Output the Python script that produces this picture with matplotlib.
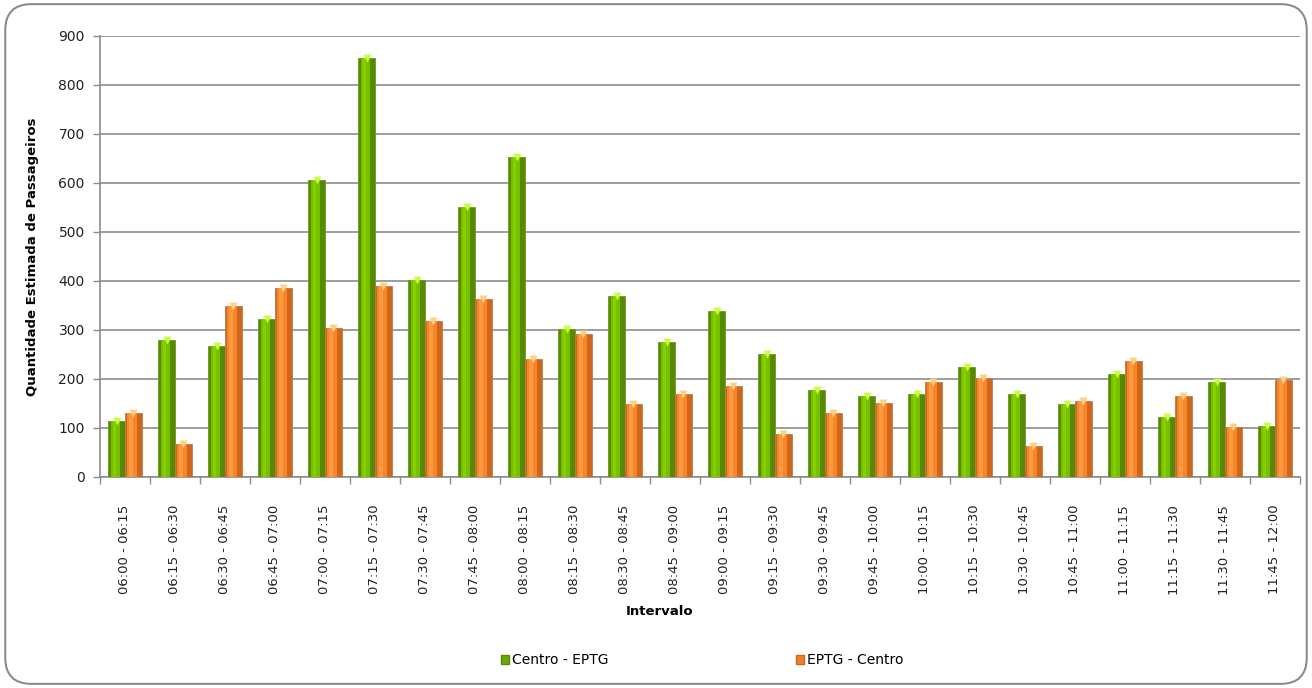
import matplotlib
matplotlib.use("Agg")
import matplotlib.pyplot as plt
import numpy as np
from matplotlib.patches import FancyBboxPatch, Patch

categories = ["06:00 - 06:15", "06:15 - 06:30", "06:30 - 06:45", "06:45 - 07:00",
              "07:00 - 07:15", "07:15 - 07:30", "07:30 - 07:45", "07:45 - 08:00",
              "08:00 - 08:15", "08:15 - 08:30", "08:30 - 08:45", "08:45 - 09:00",
              "09:00 - 09:15", "09:15 - 09:30", "09:30 - 09:45", "09:45 - 10:00",
              "10:00 - 10:15", "10:15 - 10:30", "10:30 - 10:45", "10:45 - 11:00",
              "11:00 - 11:15", "11:15 - 11:30", "11:30 - 11:45", "11:45 - 12:00"]
centro_eptg = [115, 280, 268, 323, 607, 856, 403, 552, 654, 301, 370, 276,
               339, 250, 178, 166, 170, 225, 170, 148, 211, 123, 194, 105]
eptg_centro = [131, 68, 348, 386, 305, 390, 319, 363, 241, 292, 148, 170,
               186, 88, 131, 152, 194, 203, 64, 156, 237, 166, 101, 198]
yticks = list(range(0, 1000, 100))

fig = plt.figure(figsize=(13.12, 6.88), dpi=100)
border = FancyBboxPatch((0.004, 0.006), 0.992, 0.988, boxstyle="round,pad=0,rounding_size=0.02",
                        transform=fig.transFigure, facecolor="none", edgecolor="#8c8c8c",
                        linewidth=1.5, mutation_aspect=1312/688, zorder=10)
fig.patches.append(border)

ax = fig.add_axes([0.0762, 0.3067, 0.9146, 0.641])
x = np.arange(len(categories))
w = 0.34
off_g, off_o = -0.16, 0.17

# green cylinders
ax.bar(x + off_g, centro_eptg, w, color="#578a00", edgecolor="#6a9a20", linewidth=0.6, zorder=3)
ax.bar(x + off_g - 0.03, centro_eptg, w * 0.55, color="#77c000", linewidth=0, zorder=4)
ax.bar(x + off_g - 0.05, centro_eptg, w * 0.2, color="#86d000", linewidth=0, zorder=5)
# orange cylinders
ax.bar(x + off_o, eptg_centro, w, color="#d0661a", edgecolor="#b87a50", linewidth=0.6, zorder=3)
ax.bar(x + off_o - 0.03, eptg_centro, w * 0.55, color="#f5862c", linewidth=0, zorder=4)
ax.bar(x + off_o - 0.05, eptg_centro, w * 0.2, color="#ff9a40", linewidth=0, zorder=5)
# caps
ax.scatter(x + off_g, centro_eptg, marker="v", s=32, color="#c8ff40", zorder=6, linewidths=0)
ax.scatter(x + off_o, eptg_centro, marker="v", s=32, color="#ffd080", zorder=6, linewidths=0)

ax.set_xlim(-0.5, len(categories) - 0.5)
ax.set_ylim(0, 900)
ax.set_yticks(yticks)
ax.set_yticklabels([str(v) for v in yticks], fontsize=10, color="#222222")
ax.yaxis.grid(True, color="#8c8c8c", linewidth=1.2, zorder=0)
ax.set_axisbelow(True)
ax.set_xticks(x)
ax.set_xticklabels(categories, rotation=90, fontsize=9.5, color="#222222")
ax.set_xticks(np.arange(-0.5, len(categories)), minor=True)
ax.tick_params(axis="x", which="major", length=0, pad=20)
ax.tick_params(axis="x", which="minor", length=5, color="#8c8c8c", width=1)
ax.tick_params(axis="y", length=5, color="#8c8c8c", width=1, pad=6)
for s in ["top", "right"]:
    ax.spines[s].set_visible(False)
for s in ["left", "bottom"]:
    ax.spines[s].set_color("#8c8c8c")
    ax.spines[s].set_linewidth(1.2)

ax.set_ylabel("Quantidade Estimada de Passageiros", fontsize=9.5, fontweight="bold", labelpad=14)
fig.text(0.503, 0.111, "Intervalo", ha="center", va="center", fontsize=9.5, fontweight="bold")

handles = [Patch(facecolor="#6aaa00", edgecolor="#578a00"), Patch(facecolor="#f08028", edgecolor="#c86a20")]
leg = fig.legend(handles, ["Centro - EPTG", "EPTG - Centro"], loc="center", bbox_to_anchor=(0.535, 0.04),
                 ncol=2, frameon=False, fontsize=10, handlelength=0.6, handleheight=0.6,
                 handletextpad=0.2, columnspacing=13.5)

fig.savefig("out.png", dpi=100)
